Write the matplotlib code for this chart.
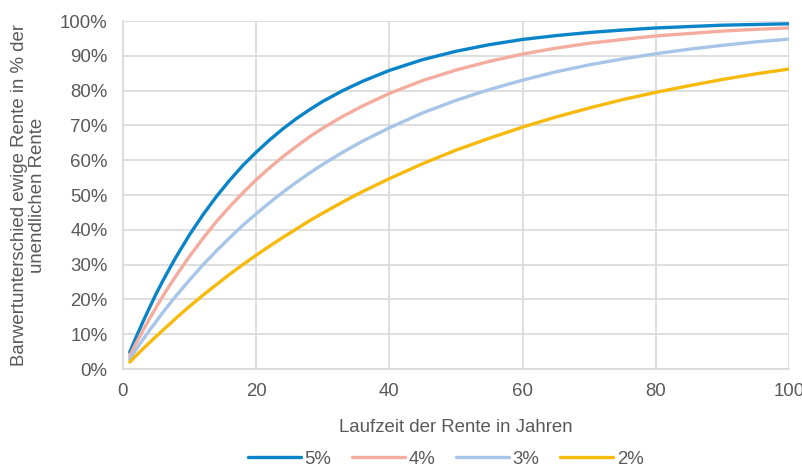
import matplotlib
matplotlib.use("Agg")
import matplotlib.pyplot as plt
from matplotlib.ticker import FuncFormatter

plt.rcParams['font.family'] = ['Liberation Sans', 'DejaVu Sans']

years = [1, 2, 3, 4, 5, 6, 7, 8, 10, 12, 14, 16, 18, 20, 22, 24, 26, 28, 30, 33, 36, 40,
         45, 50, 55, 60, 65, 70, 75, 80, 85, 90, 95, 100]
rate_5 = [0.048, 0.093, 0.136, 0.177, 0.217, 0.254, 0.289, 0.323, 0.386, 0.443, 0.495,
          0.542, 0.585, 0.623, 0.658, 0.690, 0.719, 0.745, 0.769, 0.800, 0.827, 0.858,
          0.889, 0.913, 0.932, 0.947, 0.958, 0.967, 0.974, 0.980, 0.984, 0.988, 0.990, 0.992]
rate_4 = [0.038, 0.075, 0.111, 0.145, 0.178, 0.210, 0.240, 0.269, 0.324, 0.375, 0.423,
          0.466, 0.506, 0.544, 0.578, 0.610, 0.639, 0.667, 0.692, 0.726, 0.756, 0.792,
          0.829, 0.859, 0.884, 0.905, 0.922, 0.936, 0.947, 0.957, 0.964, 0.971, 0.976, 0.980]
rate_3 = [0.029, 0.057, 0.085, 0.112, 0.137, 0.163, 0.187, 0.211, 0.256, 0.299, 0.339,
          0.377, 0.413, 0.446, 0.478, 0.508, 0.536, 0.563, 0.588, 0.623, 0.655, 0.693,
          0.736, 0.772, 0.803, 0.830, 0.854, 0.874, 0.891, 0.906, 0.919, 0.930, 0.940, 0.948]
rate_2 = [0.020, 0.039, 0.058, 0.076, 0.094, 0.112, 0.129, 0.147, 0.180, 0.212, 0.242,
          0.272, 0.300, 0.327, 0.353, 0.378, 0.402, 0.426, 0.448, 0.480, 0.510, 0.547,
          0.590, 0.629, 0.663, 0.695, 0.724, 0.750, 0.774, 0.795, 0.814, 0.832, 0.848, 0.862]
series_labels = ['5%', '4%', '3%', '2%']
colors = ['#0A84C8', '#F4AC9E', '#A7C5E8', '#F7B90A']
x_ticks = [0, 20, 40, 60, 80, 100]
y_ticks = [0, 0.1, 0.2, 0.3, 0.4, 0.5, 0.6, 0.7, 0.8, 0.9, 1.0]

FS = 13.4
TXT = '#595959'

fig = plt.figure(figsize=(8.03, 4.68), dpi=100)
ax = fig.add_axes([123/803, 1-369/468, (789-123)/803, (369-21)/468])

for vals, lab, c in zip([rate_5, rate_4, rate_3, rate_2], series_labels, colors):
    ax.plot(years, vals, color=c, lw=2.4, label=lab, solid_capstyle='round',
            solid_joinstyle='round')

ax.set_xlim(0, 100)
ax.set_ylim(0, 1.0)
ax.set_xticks(x_ticks)
ax.set_yticks(y_ticks)
ax.yaxis.set_major_formatter(FuncFormatter(lambda v, p: f"{v*100:.0f}%"))
ax.grid(True, color='#D9D9D9', lw=1.2)
ax.set_axisbelow(True)
for s in ['top', 'right']:
    ax.spines[s].set_visible(False)
for s in ['left', 'bottom']:
    ax.spines[s].set_color('#D9D9D9')
    ax.spines[s].set_linewidth(1.2)
ax.tick_params(axis='both', length=0, labelsize=FS, labelcolor=TXT)
ax.tick_params(axis='y', pad=11)
ax.tick_params(axis='x', pad=10)

ax.set_xlabel('Laufzeit der Rente in Jahren', fontsize=FS, color=TXT, labelpad=14)
ax.set_ylabel('Barwertunterschied ewige Rente in % der\nunendlichen Rente', fontsize=FS,
              color=TXT, labelpad=10, linespacing=1.05)

leg = fig.legend(loc='lower center', bbox_to_anchor=(0.555, -0.035), ncol=4, frameon=False,
                 fontsize=FS, handlelength=2.85, columnspacing=1.1, handletextpad=0.2)
for t in leg.get_texts():
    t.set_color(TXT)

fig.savefig('out.png', dpi=100)
